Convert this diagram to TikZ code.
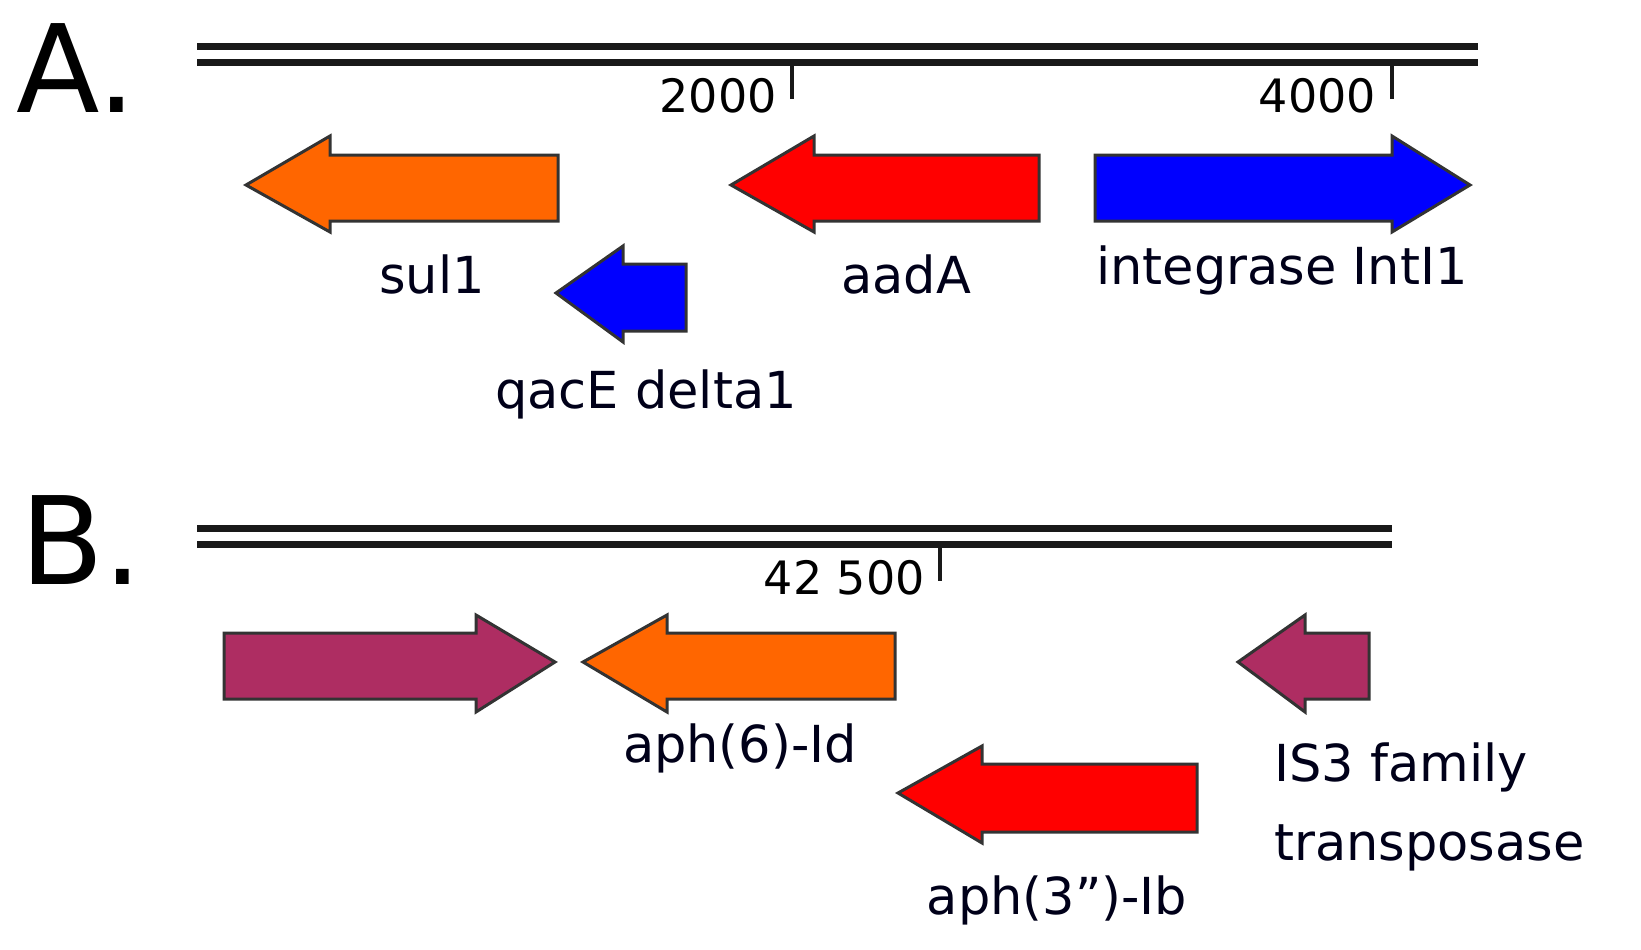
\documentclass[tikz,border=0pt]{standalone}
\usepackage{fontspec}
\setmainfont{DejaVu Sans}[Ligatures=ResetAll]
\begin{document}
\begin{tikzpicture}[x=1pt,y=-1pt,
  gene/.style={draw=black!80,line width=3pt,line join=miter},
  lbl/.style={font=\fontsize{51}{58}\selectfont,text=black!90!blue,inner sep=0pt},
  tk/.style={font=\fontsize{46}{52}\selectfont,inner sep=0pt,anchor=east},
  big/.style={font=\fontsize{122}{130}\selectfont,inner sep=0pt,anchor=west},
  rule/.style={line width=7pt,black!90}]
\useasboundingbox (0,0) rectangle (1641,950);
\definecolor{orng}{RGB}{255,102,0}
\definecolor{purp}{RGB}{174,45,98}
% Panel A
\node[big] (la) at (16,68) {A.};
\draw[rule] (197,47) -- (1478,47);
\draw[rule] (197,63) -- (1478,63);
\draw[line width=4pt,black!90] (792,63) -- (792,99);
\draw[line width=4pt,black!90] (1392,63) -- (1392,99);
\node[tk] (t1) at (777,96) {2000};
\node[tk] (t2) at (1376,96) {4000};
\draw[gene,fill=orng] (246,185) -- (330,136) -- (330,155) -- (558,155) -- (558,221) -- (330,221) -- (330,232) -- cycle;
\draw[gene,fill=red] (731,185) -- (814,136) -- (814,155) -- (1039,155) -- (1039,221) -- (814,221) -- (814,232) -- cycle;
\draw[gene,fill=blue] (1470,185) -- (1392,136) -- (1392,155) -- (1095,155) -- (1095,221) -- (1392,221) -- (1392,232) -- cycle;
\draw[gene,fill=blue] (556,293) -- (623,246) -- (623,264) -- (686,264) -- (686,331) -- (623,331) -- (623,342) -- cycle;
\node[lbl] (n1) at (432,274) {sul1};
\node[lbl] (n2) at (906,274) {aadA};
\node[lbl] (n3) at (1282,270) {integrase IntI1};
\node[lbl] (n4) at (646,394) {qacE delta1};
% Panel B
\node[big] (lb) at (20,540) {B.};
\draw[rule] (197,528) -- (1392,528);
\draw[rule] (197,544) -- (1392,544);
\draw[line width=4pt,black!90] (940,544) -- (940,581);
\node[tk] (t3) at (925,578) {42 500};
\draw[gene,fill=purp] (555,662) -- (476,615) -- (476,633) -- (224,633) -- (224,699) -- (476,699) -- (476,712) -- cycle;
\draw[gene,fill=orng] (583,662) -- (667,615) -- (667,633) -- (895,633) -- (895,699) -- (667,699) -- (667,712) -- cycle;
\draw[gene,fill=purp] (1238,662) -- (1305,615) -- (1305,633) -- (1369,633) -- (1369,699) -- (1305,699) -- (1305,712) -- cycle;
\draw[gene,fill=red] (898,793) -- (982,746) -- (982,764) -- (1197,764) -- (1197,832) -- (982,832) -- (982,843) -- cycle;
\node[lbl] (m1) at (740,748) {aph(6)-Id};
\node[lbl] (m2) at (1057,900) {aph(3")-Ib};
\node[lbl,anchor=west] (m3) at (1274,767) {IS3 family};
\node[lbl,anchor=west] (m4) at (1274,848) {transposase};
\end{tikzpicture}
\end{document}
